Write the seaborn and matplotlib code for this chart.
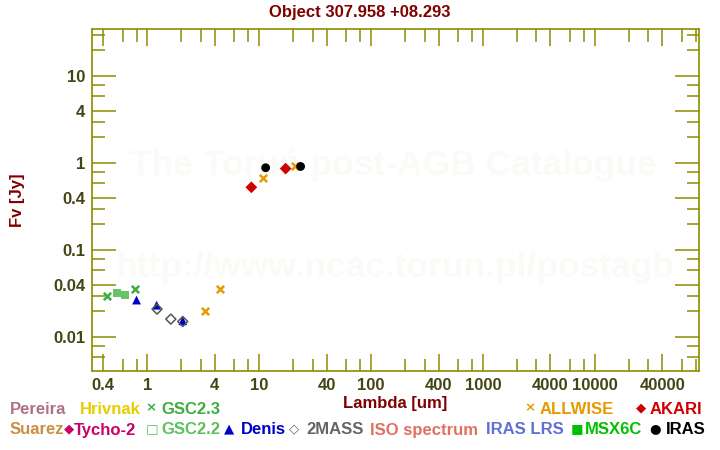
import numpy as np
import pandas as pd
import seaborn as sns
import matplotlib.pyplot as plt
from matplotlib.ticker import FixedLocator, NullFormatter

# Photometry (wavelength in um, flux in Jy)
gsc23_lam = [0.44, 0.78]
gsc23_flux = [0.030, 0.036]
gsc22_lam = [0.54, 0.63]
gsc22_flux = [0.032, 0.0306]
denis_lam = [0.80, 1.21, 2.07]
denis_flux = [0.0268, 0.0234, 0.0155]
mass2_lam = [1.22, 1.62, 2.07]
mass2_flux = [0.0211, 0.0162, 0.0152]
allwise_lam = [3.25, 4.42, 10.9, 20.7]
allwise_flux = [0.020, 0.0359, 0.684, 0.94]
akari_lam = [8.5, 17.2]
akari_flux = [0.53, 0.87]
iras_lam = [11.4, 23.4]
iras_flux = [0.89, 0.92]

catalogs = ['GSC2.3', 'GSC2.2', 'Denis', '2MASS', 'ALLWISE', 'AKARI', 'IRAS']
lams = [gsc23_lam, gsc22_lam, denis_lam, mass2_lam, allwise_lam, akari_lam, iras_lam]
fluxes = [gsc23_flux, gsc22_flux, denis_flux, mass2_flux, allwise_flux, akari_flux, iras_flux]

df = pd.concat([pd.DataFrame({'lam': l, 'flux': f, 'cat': c})
                for c, l, f in zip(catalogs, lams, fluxes)], ignore_index=True)

# marker styles per catalog
styles = {
    'GSC2.3': dict(marker='x', color='#3cae3c', s=28, linewidths=1.8),
    'GSC2.2': dict(marker='s', color='#4fb84f', s=34, alpha=0.85, edgecolor='none'),
    'Denis': dict(marker='^', color='#0000cc', s=40, edgecolor='none'),
    '2MASS': dict(marker='D', facecolor='none', edgecolor='#555555', s=26, linewidths=1.1),
    'ALLWISE': dict(marker='x', color='#e69a00', s=28, linewidths=1.8),
    'AKARI': dict(marker='D', color='#d00000', s=36, edgecolor='none'),
    'IRAS': dict(marker='o', color='black', s=40, edgecolor='none'),
}

# legend under the plot: (symbol, label, colour, x of symbol, x of label)
leg_row1 = [('', 'Pereira', '#b07088', 0, 10),
            ('', 'Hrivnak', '#e8cc00', 0, 80),
            ('\u00d7', 'GSC2.3', '#3cae3c', 151, 161),
            ('\u00d7', 'ALLWISE', '#e69a00', 530, 540),
            ('\u25c6', 'AKARI', '#d00000', 641, 650)]
leg_row2 = [('', 'Suarez', '#c89040', 0, 10),
            ('\u25c6', 'Tycho-2', '#cc0066', 69, 74),
            ('\u25a1', 'GSC2.2', '#5cc05c', 152, 161),
            ('\u25b2', 'Denis', '#0000cc', 229, 241),
            ('\u25c7', '2MASS', '#666666', 294, 306),
            ('', 'ISO spectrum', '#e07060', 0, 370),
            ('', 'IRAS LRS', '#6070d0', 0, 486),
            ('\u25a0', 'MSX6C', '#00c000', 577, 585),
            ('\u25cf', 'IRAS', 'black', 655, 666)]

sns.set_style('white')
plt.rcParams['font.family'] = ['Liberation Sans', 'DejaVu Sans']
plt.rcParams['font.weight'] = 'bold'

fig = plt.figure(figsize=(7.2, 4.5), dpi=100)
ax = fig.add_axes([92 / 720, 1 - 371 / 450, (699 - 92) / 720, (371 - 29) / 450])

# faint watermark, behind the points
wm = '#fafaf7'
ax.text(393 / 720, 1 - 166 / 450, 'The Toru\u0144 post-AGB Catalogue', transform=fig.transFigure,
        ha='center', va='center', fontsize=25.5, color=wm, fontweight='bold', zorder=0)
ax.text(395 / 720, 1 - 268 / 450, 'http://www.ncac.torun.pl/postagb', transform=fig.transFigure,
        ha='center', va='center', fontsize=25.5, color=wm, fontweight='bold', zorder=0)

for c in catalogs:
    sns.scatterplot(data=df[df['cat'] == c], x='lam', y='flux', ax=ax, legend=False,
                    zorder=3, **styles[c])

ax.set_xscale('log')
ax.set_yscale('log')
ax.set_xlim(0.32, 85000)
ax.set_ylim(0.0041, 35)

olive = '#8c8c00'
for sp in ax.spines.values():
    sp.set_color(olive)
    sp.set_linewidth(1.2)

xmaj = [0.4, 1, 4, 10, 40, 100, 400, 1000, 4000, 10000, 40000]
xmin = [m * 10.0 ** e for e in range(-1, 5) for m in (2, 3, 6, 8)]
ymaj = [0.01, 0.04, 0.1, 0.4, 1, 4, 10]
ymin = [m * 10.0 ** e for e in range(-3, 2) for m in (2, 3, 6, 8)]
ax.xaxis.set_major_locator(FixedLocator(xmaj))
ax.xaxis.set_minor_locator(FixedLocator(xmin))
ax.yaxis.set_major_locator(FixedLocator(ymaj))
ax.yaxis.set_minor_locator(FixedLocator(ymin))
ax.set_xticklabels([f'{v:g}' for v in xmaj])
ax.set_yticklabels([f'{v:g}' for v in ymaj])
ax.xaxis.set_minor_formatter(NullFormatter())
ax.yaxis.set_minor_formatter(NullFormatter())
ax.tick_params(which='both', direction='in', top=True, right=True, bottom=True, left=True,
               color=olive, width=1.1)
ax.tick_params(which='major', labelsize=12, labelcolor='#444414')
ax.tick_params(axis='x', which='major', length=12, pad=5)
ax.tick_params(axis='y', which='major', length=17, pad=5)
ax.tick_params(which='minor', length=9)
for lab in ax.get_xticklabels() + ax.get_yticklabels():
    lab.set_fontweight('bold')

ax.set_xlabel('Lambda [um]', fontsize=12, color='#800000', fontweight='bold', labelpad=2)
ax.set_ylabel('Fv [Jy]', fontsize=12, color='#800000', fontweight='bold', labelpad=20)
fig.text(0.5, 1 - 12 / 450, 'Object 307.958 +08.293', fontsize=12, color='#800000',
         fontweight='bold', ha='center', va='center')

for row_y, row in ((409, leg_row1), (430, leg_row2)):
    for sym, lab, col, xs, xl in row:
        if sym:
            fig.text(xs / 720, 1 - (row_y - 1) / 450, sym, color=col, fontsize=9.5,
                     family='DejaVu Sans', fontweight='bold', va='center', ha='center')
        fig.text(xl / 720, 1 - row_y / 450, lab, color=col, fontsize=12,
                 fontweight='bold', va='center')

fig.savefig('out.png', dpi=100)
